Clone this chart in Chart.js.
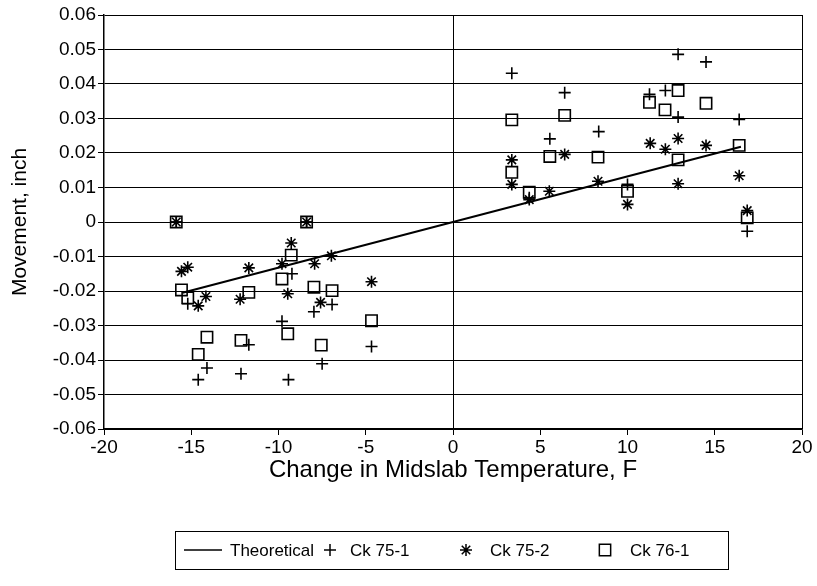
<!DOCTYPE html>
<html>
<head>
<meta charset="utf-8">
<script src="https://cdn.jsdelivr.net/npm/chart.js@4"></script>
<style>
  html, body { margin: 0; padding: 0; background: #fff; }
  #wrap { width: 817px; height: 586px; }
</style>
</head>
<body>
<div id="wrap"><canvas id="chart" width="817" height="586"></canvas></div>
<script>
// tick labels
const xTicks = [-20, -15, -10, -5, 0, 5, 10, 15, 20];
const yTicks = [-0.06, -0.05, -0.04, -0.03, -0.02, -0.01, 0, 0.01, 0.02, 0.03, 0.04, 0.05, 0.06];

// Theoretical line
const theoX = [-15.5, 0, 16.5];
const theoY = [-0.0205, 0, 0.0218];

// Ck 75-1 (+)
const ck751X = [-15.86, -15.2, -14.1, -14.6, -11.7, -12.15, -8.39, -9.23, -6.93, -7.97, -9.8, -7.5, -9.43, -4.67,
                3.37, 6.4, 5.55, 8.35, 4.37, 12.9, 14.5, 12.17, 11.26, 12.9, 16.4, 10.0, 16.86];
const ck751Y = [0, -0.0237, -0.0423, -0.0457, -0.0356, -0.044, 0, -0.015, -0.0239, -0.026, -0.0288, -0.0411, -0.0457, -0.0361,
                0.0431, 0.0375, 0.0241, 0.0262, 0.007, 0.0486, 0.0464, 0.0381, 0.037, 0.0304, 0.0297, 0.0109, -0.0027];

// Ck 75-2 (star)
const ck752X = [-15.86, -15.56, -15.2, -14.6, -14.16, -11.7, -12.2, -8.39, -9.27, -9.8, -7.93, -6.97, -9.47, -7.59, -4.67,
                3.37, 3.37, 6.4, 8.31, 4.37, 5.52, 11.3, 12.17, 12.9, 14.5, 16.4, 12.9, 10.0, 16.86];
const ck752Y = [0, -0.0143, -0.0131, -0.0243, -0.0216, -0.0133, -0.0224, 0, -0.0061, -0.0121, -0.0121, -0.0098, -0.0208, -0.0233, -0.0173,
                0.018, 0.0109, 0.0196, 0.0118, 0.0065, 0.0089, 0.0228, 0.0211, 0.0242, 0.0222, 0.0134, 0.0111, 0.0051, 0.0033];

// Ck 76-1 (square)
const ck761X = [-15.86, -15.56, -15.2, -14.1, -14.6, -11.7, -12.15, -8.39, -9.27, -9.8, -7.97, -6.93, -9.47, -7.55, -4.67,
                3.37, 6.4, 5.55, 8.31, 3.37, 4.37, 12.9, 11.26, 12.15, 14.5, 16.4, 12.9, 10.0, 16.86];
const ck761Y = [0, -0.0197, -0.022, -0.0334, -0.0384, -0.0204, -0.0343, 0, -0.0096, -0.0165, -0.0189, -0.0199, -0.0324, -0.0357, -0.0286,
                0.0296, 0.0309, 0.019, 0.0188, 0.0144, 0.0086, 0.0381, 0.0347, 0.0325, 0.0344, 0.0222, 0.018, 0.0089, 0.0012];

const pts = (xs, ys) => xs.map((x, i) => ({ x: x, y: ys[i] }));
const FONT = "'Liberation Sans', Arial, sans-serif";

// legend drawn in a framed box under the axis title
const boxLegend = {
    id: 'boxLegend',
    afterDraw(chart) {
        const ctx = chart.ctx;
        const top = 531, bottom = 569, left = 175, right = 728;
        const cy = (top + bottom) / 2;
        ctx.save();
        ctx.strokeStyle = '#000';
        ctx.lineWidth = 1;
        ctx.strokeRect(left + 0.5, top + 0.5, right - left, bottom - top);
        ctx.textBaseline = 'middle';
        const items = [
            { ds: 0, sym: 184, text: 230 },
            { ds: 1, sym: 330, text: 350 },
            { ds: 2, sym: 466, text: 490 },
            { ds: 3, sym: 605, text: 630 }
        ];
        items.forEach(it => {
            const d = chart.data.datasets[it.ds];
            ctx.strokeStyle = '#000';
            if (it.ds === 0) {
                ctx.beginPath();
                ctx.lineWidth = 1.5;
                ctx.moveTo(it.sym, cy);
                ctx.lineTo(it.sym + 38, cy);
                ctx.stroke();
            } else {
                ctx.fillStyle = 'rgba(0,0,0,0)';
                Chart.helpers.drawPoint(ctx, {
                    pointStyle: d.pointStyle, radius: d.pointRadius, rotation: 0, borderWidth: 1.5
                }, it.sym, cy);
            }
            ctx.font = '17px ' + FONT;
            ctx.fillStyle = '#000';
            ctx.fillText(d.label, it.text, cy + 1);
        });
        ctx.restore();
    }
};

new Chart(document.getElementById('chart'), {
    type: 'scatter',
    data: {
        datasets: [{
            label: 'Theoretical',
            data: pts(theoX, theoY),
            showLine: true,
            borderColor: '#000',
            borderWidth: 2,
            pointRadius: 0,
            tension: 0
        }, {
            label: 'Ck 75-1',
            data: pts(ck751X, ck751Y),
            pointStyle: 'cross',
            pointRadius: 6,
            borderColor: '#000',
            borderWidth: 1.6,
            backgroundColor: 'transparent'
        }, {
            label: 'Ck 75-2',
            data: pts(ck752X, ck752Y),
            pointStyle: 'star',
            pointRadius: 6,
            borderColor: '#000',
            borderWidth: 1.6,
            backgroundColor: 'transparent'
        }, {
            label: 'Ck 76-1',
            data: pts(ck761X, ck761Y),
            pointStyle: 'rect',
            pointRadius: 8,
            borderColor: '#000',
            borderWidth: 1.6,
            backgroundColor: 'transparent'
        }]
    },
    options: {
        responsive: false,
        animation: false,
        layout: { padding: { top: 15, right: 15, bottom: 100, left: 0 } },
        scales: {
            x: {
                type: 'linear',
                min: -20, max: 20,
                afterBuildTicks: s => { s.ticks = xTicks.map(v => ({ value: v })); },
                afterFit: s => { s.height = 57; },
                ticks: { color: '#000', font: { family: FONT, size: 19 }, padding: 1, maxRotation: 0 },
                grid: {
                    color: c => (c.tick && (c.tick.value === 0 || c.tick.value === 20)) ? '#000' : 'rgba(0,0,0,0)',
                    tickColor: '#000',
                    tickLength: 6,
                    lineWidth: 1
                },
                border: { color: '#000', width: 1.5 },
                title: {
                    display: true,
                    text: 'Change in Midslab Temperature, F',
                    color: '#000',
                    font: { family: FONT, size: 24 },
                    padding: { top: 0, bottom: 1 }
                }
            },
            y: {
                type: 'linear',
                min: -0.06, max: 0.06,
                afterBuildTicks: s => { s.ticks = yTicks.map(v => ({ value: v })); },
                afterFit: s => { s.width = 104; },
                ticks: {
                    color: '#000',
                    font: { family: FONT, size: 19 },
                    padding: 2,
                    callback: v => Math.abs(v) < 1e-9 ? '0' : v.toFixed(2)
                },
                grid: { color: '#000', tickColor: '#000', tickLength: 6, lineWidth: 1 },
                border: { color: '#000', width: 1.5 },
                title: {
                    display: true,
                    text: 'Movement, inch',
                    color: '#000',
                    font: { family: FONT, size: 21 },
                    padding: { top: 8, bottom: 0 }
                }
            }
        },
        plugins: {
            legend: { display: false },
            tooltip: { enabled: false }
        }
    },
    plugins: [boxLegend]
});
</script>
</body>
</html>
